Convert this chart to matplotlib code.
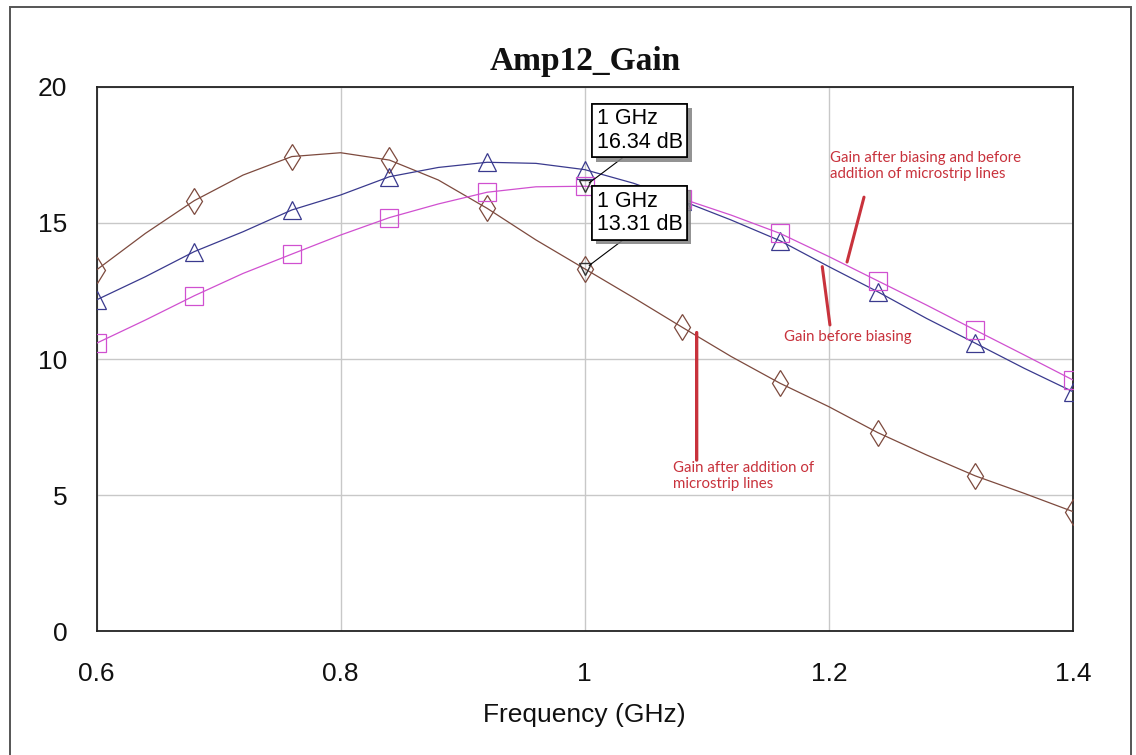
#!/usr/bin/env python3
"""Amp12_Gain: gain vs frequency for three amplifier stages."""
import matplotlib.pyplot as plt
import matplotlib.patheffects as pe
from matplotlib.patches import Rectangle

# ── Data ─────────────────────────────────────────────────────────
freq = [0.60, 0.64, 0.68, 0.72, 0.76, 0.80, 0.84, 0.88, 0.92, 0.96, 1.00,
        1.04, 1.08, 1.12, 1.16, 1.20, 1.24, 1.28, 1.32, 1.36, 1.40]

gain_microstrip = [13.27, 14.61, 15.81, 16.75, 17.43, 17.57, 17.30, 16.57,
                   15.53, 14.37, 13.31, 12.25, 11.16, 10.09, 9.11, 8.25,
                   7.30, 6.48, 5.71, 5.07, 4.40]
gain_before_bias = [12.17, 13.02, 13.94, 14.67, 15.47, 16.02, 16.69, 17.03,
                    17.22, 17.18, 16.95, 16.45, 15.80, 15.10, 14.34, 13.39,
                    12.47, 11.49, 10.58, 9.66, 8.80]
gain_after_bias = [10.58, 11.43, 12.32, 13.14, 13.85, 14.55, 15.19, 15.69,
                   16.12, 16.32, 16.34, 16.24, 15.88, 15.28, 14.61, 13.76,
                   12.87, 11.98, 11.06, 10.15, 9.23]

readout_freq = [1.0, 1.0]
readout_gain = [16.34, 13.31]

x_ticks = [0.6, 0.8, 1.0, 1.2, 1.4]
x_tick_labels = ['0.6', '0.8', '1', '1.2', '1.4']
y_ticks = [0, 5, 10, 15, 20]

# ── Style ─────────────────────────────────────────────────────────
brown = '#7d4a3e'
navy = '#3a3a8e'
magenta = '#d050d0'
note_red = '#c8323c'
grid_gray = '#c8c8c8'
sans = 'Liberation Sans'

fig = plt.figure(figsize=(11.36, 7.55), dpi=100, facecolor='white')
ax = fig.add_axes([0.0850, 0.1636, 0.8595, 0.7218])

# outer frame round the whole graph window
fig.patches.append(Rectangle((10 / 1136, -0.05), 1121 / 1136, 0.05 + 748 / 755,
                             transform=fig.transFigure, fill=False,
                             edgecolor='#555555', linewidth=1.4))

# ── Curves ───────────────────────────────────────────────────────
ax.plot(freq, gain_microstrip, color=brown, lw=0.9, marker='d', ms=13,
        mfc='none', mec=brown, mew=0.9, markevery=2, zorder=3)
ax.plot(freq, gain_before_bias, color=navy, lw=0.9, marker='^', ms=13,
        mfc='none', mec=navy, mew=0.9, markevery=2, zorder=3)
ax.plot(freq, gain_after_bias, color=magenta, lw=0.9, marker='s', ms=12.5,
        mfc='none', mec=magenta, mew=0.9, markevery=2, zorder=3)

# readout markers at 1 GHz
ax.plot(readout_freq, readout_gain, linestyle='none', marker='v', ms=9,
        mfc='none', mec='#333333', mew=1.0, zorder=4)

for f, g in zip(readout_freq, readout_gain):
    t = ax.annotate(f'{f:g} GHz\n{g:.2f} dB', (f, g),
                    xytext=(12, 78), textcoords='offset pixels',
                    ha='left', va='top', fontsize=15.5, family=sans,
                    linespacing=1.15,
                    bbox=dict(boxstyle='square,pad=0.22', fc='white',
                              ec='black', lw=1.2),
                    arrowprops=dict(arrowstyle='-', color='black', lw=0.8,
                                    relpos=(0.38, 0.0), shrinkA=0, shrinkB=4),
                    zorder=6)
    t.get_bbox_patch().set_path_effects([
        pe.withSimplePatchShadow(offset=(3, -3), shadow_rgbFace='#808080',
                                 alpha=0.85),
        pe.Normal()])

# ── Hand-drawn notes ─────────────────────────────────────────────
note_font = dict(fontsize=10.8, family='Lato', color=note_red, linespacing=1.2)
ax.text(1.2011, 17.65, 'Gain after biasing and before\naddition of microstrip lines',
        ha='left', va='top', **note_font)
ax.annotate('', xy=(1.2149, 13.56), xytext=(1.2288, 15.94),
            arrowprops=dict(arrowstyle='-', color=note_red, lw=2.2,
                            shrinkA=0, shrinkB=0))
ax.text(1.1635, 11.05, 'Gain before biasing', ha='left', va='top', **note_font)
ax.annotate('', xy=(1.1946, 13.39), xytext=(1.2009, 11.25),
            arrowprops=dict(arrowstyle='-', color=note_red, lw=2.2,
                            shrinkA=0, shrinkB=0))
ax.text(1.0720, 6.25, 'Gain after addition of\nmicrostrip lines',
        ha='left', va='top', **note_font)
ax.annotate('', xy=(1.0917, 10.97), xytext=(1.0917, 6.29),
            arrowprops=dict(arrowstyle='-', color=note_red, lw=2.4,
                            shrinkA=0, shrinkB=0))

# ── Axes ─────────────────────────────────────────────────────────
ax.set_xlim(0.6, 1.4)
ax.set_ylim(0, 20)
ax.set_xticks(x_ticks)
ax.set_xticklabels(x_tick_labels)
ax.set_yticks(y_ticks)
ax.tick_params(axis='both', length=0, labelsize=19, colors='#111111')
ax.tick_params(axis='x', pad=22)
ax.tick_params(axis='y', pad=21)
for lbl in ax.get_xticklabels() + ax.get_yticklabels():
    lbl.set_family(sans)
ax.grid(True, color=grid_gray, linewidth=1.0, zorder=0)
for sp in ax.spines.values():
    sp.set_color('#222222')
    sp.set_linewidth(1.3)

ax.set_xlabel('Frequency (GHz)', fontsize=19, family=sans, color='#111111',
              labelpad=12)
ax.set_title('Amp12_Gain', fontsize=24, fontweight='bold',
             family='Liberation Serif', color='#111111', pad=12)

fig.savefig('out.png', dpi=100, facecolor='white')
